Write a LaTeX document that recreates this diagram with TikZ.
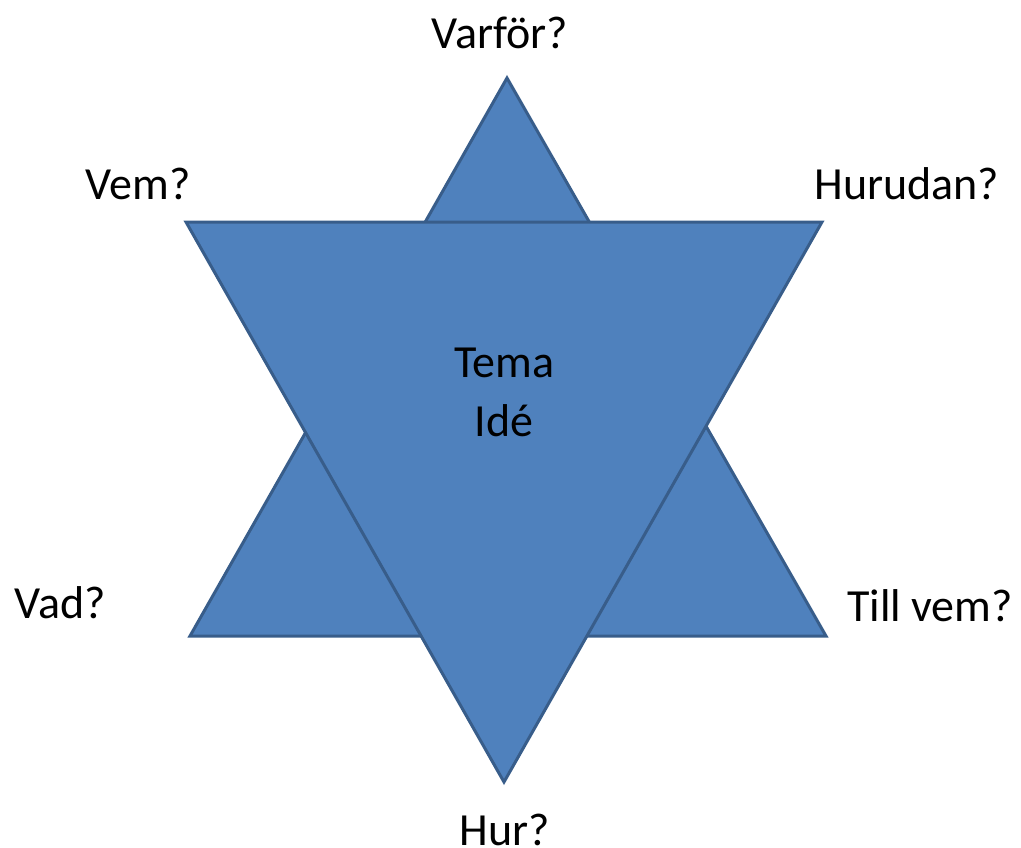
\documentclass[tikz,border=0pt]{standalone}
\usepackage{fontspec}
\setmainfont{Carlito}
\usepackage{tikz}
\usetikzlibrary{positioning}

\definecolor{starfill}{HTML}{4F81BD}
\definecolor{starline}{HTML}{385D8A}

\begin{document}
\begin{tikzpicture}[
    x=1pt, y=-1pt,
    triangle/.style={draw=starline, fill=starfill, line width=3pt, line join=miter},
    question/.style={anchor=base, inner sep=0pt, font=\fontsize{46}{58}\selectfont, text=black},
    centre/.style={align=center, inner sep=0pt, font=\fontsize{46}{59}\selectfont, text=black}
]

% ─── Canvas ──────────────────────────────────────────────────────────
\useasboundingbox (0, 0) rectangle (1021, 847);

% ─── Star (upward triangle behind, downward triangle on top) ─────────
\draw[triangle] (507, 78) -- (826, 636) -- (190, 636) -- cycle;
\draw[triangle] (186, 222) -- (822, 222) -- (504, 782) -- cycle;

% ─── Centre text ─────────────────────────────────────────────────────
\node[centre] (tema) at (504, 392) {Tema\\Idé};

% ─── Questions round the star ────────────────────────────────────────
\node[question] (varfor)  at (500, 48)  {Varför?};
\node[question] (vem)     at (138, 199) {Vem?};
\node[question] (hurudan) at (907, 199) {Hurudan?};
\node[question] (vad)     at (60, 618)  {Vad?};
\node[question] (tillvem) at (930, 621) {Till vem?};
\node[question] (hur)     at (505, 845) {Hur?};

\end{tikzpicture}
\end{document}
